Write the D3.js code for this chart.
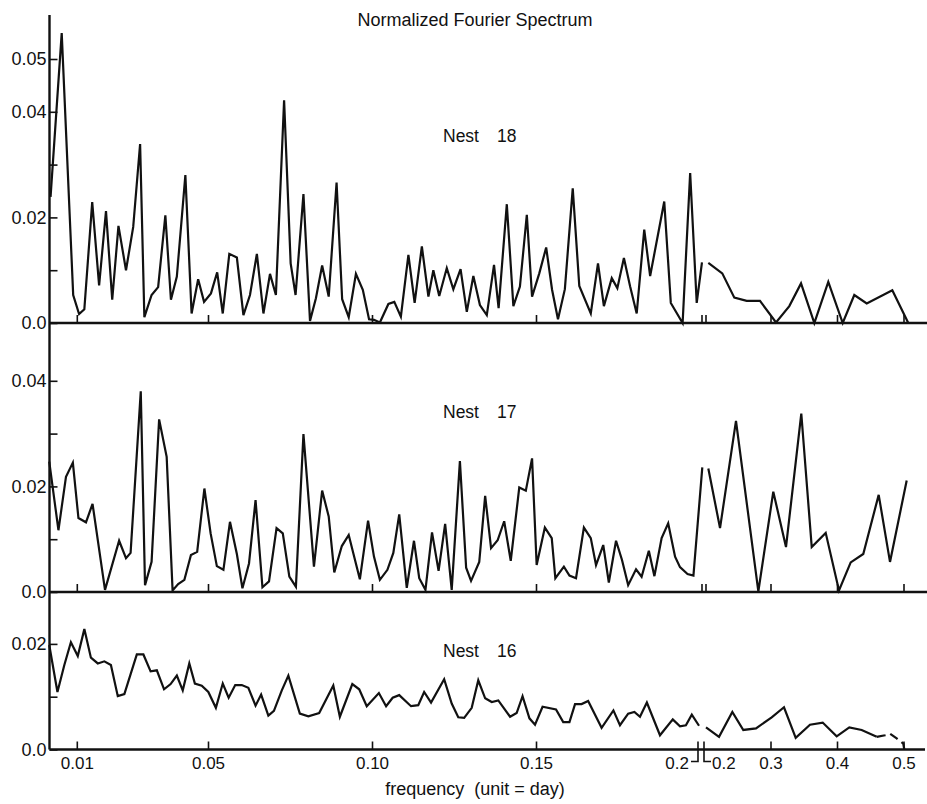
<!DOCTYPE html>
<html>
<head>
<meta charset="utf-8">
<script src="https://cdn.jsdelivr.net/npm/d3@7"></script>
<style>
  body { margin: 0; background: #fff; }
  svg text { font-family: "Liberation Sans", Arial, sans-serif; fill: #111; }
</style>
</head>
<body>
<div id="container"></div>
<script>
/* DATA */
// Nest 18, low frequency part (0 - 0.2)
const nest18FreqA = [0.0020, 0.0054, 0.0089, 0.0107, 0.0123, 0.0147, 0.0168, 0.0189, 0.0208, 0.0227,
  0.0250, 0.0272, 0.0293, 0.0306, 0.0328, 0.0348, 0.0370, 0.0387, 0.0405, 0.0431,
  0.0450, 0.0470, 0.0488, 0.0509, 0.0528, 0.0545, 0.0565, 0.0588, 0.0608, 0.0628,
  0.0649, 0.0669, 0.0689, 0.0707, 0.0732, 0.0752, 0.0767, 0.0791, 0.0811, 0.0829,
  0.0848, 0.0868, 0.0892, 0.0909, 0.0929, 0.0951, 0.0972, 0.0991, 0.1006, 0.1024,
  0.1050, 0.1068, 0.1088, 0.1111, 0.1130, 0.1152, 0.1172, 0.1187, 0.1205, 0.1228,
  0.1248, 0.1270, 0.1289, 0.1309, 0.1329, 0.1350, 0.1372, 0.1386, 0.1411, 0.1431,
  0.1451, 0.1472, 0.1488, 0.1510, 0.1531, 0.1549, 0.1567, 0.1588, 0.1612, 0.1632,
  0.1667, 0.1689, 0.1707, 0.1731, 0.1748, 0.1768, 0.1787, 0.1807, 0.1830, 0.1848,
  0.1891, 0.1911, 0.1947, 0.1970, 0.1990, 0.2006];
const nest18ValA = [0.0239, 0.0549, 0.0053, 0.0017, 0.0026, 0.0229, 0.0071, 0.0212, 0.0044, 0.0184,
  0.0100, 0.0182, 0.0339, 0.0011, 0.0053, 0.0068, 0.0204, 0.0044, 0.0088, 0.0280,
  0.0018, 0.0083, 0.0040, 0.0056, 0.0096, 0.0018, 0.0131, 0.0124, 0.0015, 0.0053,
  0.0131, 0.0018, 0.0093, 0.0053, 0.0422, 0.0113, 0.0053, 0.0244, 0.0004, 0.0047,
  0.0109, 0.0050, 0.0266, 0.0045, 0.0011, 0.0093, 0.0063, 0.0007, 0.0006, 0.0001,
  0.0036, 0.0040, 0.0012, 0.0129, 0.0038, 0.0145, 0.0050, 0.0100, 0.0051, 0.0104,
  0.0064, 0.0102, 0.0021, 0.0089, 0.0034, 0.0015, 0.0110, 0.0028, 0.0225, 0.0032,
  0.0069, 0.0205, 0.0050, 0.0094, 0.0143, 0.0063, 0.0007, 0.0064, 0.0255, 0.0070,
  0.0018, 0.0113, 0.0032, 0.0085, 0.0066, 0.0123, 0.0069, 0.0018, 0.0177, 0.0089,
  0.0230, 0.0038, 0.0000, 0.0284, 0.0038, 0.0115];
// Nest 18, high frequency part (0.2 - 0.5)
const nest18FreqB = [0.2065, 0.2275, 0.2456, 0.2642, 0.2842, 0.3083, 0.3283, 0.3459, 0.3659, 0.3869, 0.4086, 0.4260, 0.4447, 0.4832, 0.5072];
const nest18ValB = [0.0114, 0.0094, 0.0048, 0.0042, 0.0042, 0.0001, 0.0032, 0.0075, 0.0000, 0.0078, 0.0000, 0.0053, 0.0037, 0.0062, 0.0000];

// Nest 17
const nest17FreqA = [0.0016, 0.0044, 0.0067, 0.0088, 0.0105, 0.0128, 0.0148, 0.0186, 0.0229, 0.0250,
  0.0264, 0.0295, 0.0308, 0.0328, 0.0351, 0.0374, 0.0392, 0.0409, 0.0428, 0.0448,
  0.0467, 0.0489, 0.0508, 0.0527, 0.0547, 0.0567, 0.0588, 0.0605, 0.0625, 0.0645,
  0.0666, 0.0686, 0.0709, 0.0728, 0.0748, 0.0768, 0.0791, 0.0823, 0.0848, 0.0868,
  0.0885, 0.0908, 0.0929, 0.0963, 0.0988, 0.1006, 0.1024, 0.1047, 0.1065, 0.1083,
  0.1106, 0.1128, 0.1144, 0.1163, 0.1183, 0.1203, 0.1223, 0.1243, 0.1268, 0.1287,
  0.1302, 0.1327, 0.1345, 0.1363, 0.1383, 0.1403, 0.1423, 0.1449, 0.1469, 0.1488,
  0.1502, 0.1527, 0.1548, 0.1559, 0.1585, 0.1602, 0.1622, 0.1646, 0.1667, 0.1683,
  0.1705, 0.1722, 0.1744, 0.1762, 0.1781, 0.1805, 0.1822, 0.1844, 0.1861, 0.1883,
  0.1903, 0.1924, 0.1939, 0.1962, 0.1980, 0.2007];
const nest17ValA = [0.0247, 0.0117, 0.0218, 0.0245, 0.0140, 0.0132, 0.0167, 0.0004, 0.0097, 0.0064,
  0.0074, 0.0380, 0.0013, 0.0057, 0.0327, 0.0256, 0.0003, 0.0015, 0.0023, 0.0070,
  0.0076, 0.0196, 0.0111, 0.0049, 0.0042, 0.0133, 0.0072, 0.0007, 0.0054, 0.0174,
  0.0009, 0.0020, 0.0121, 0.0111, 0.0029, 0.0010, 0.0299, 0.0048, 0.0192, 0.0143,
  0.0037, 0.0087, 0.0108, 0.0024, 0.0135, 0.0067, 0.0023, 0.0042, 0.0074, 0.0147,
  0.0008, 0.0097, 0.0026, 0.0004, 0.0113, 0.0040, 0.0129, 0.0004, 0.0248, 0.0046,
  0.0021, 0.0057, 0.0182, 0.0083, 0.0098, 0.0134, 0.0059, 0.0198, 0.0192, 0.0253,
  0.0051, 0.0122, 0.0102, 0.0026, 0.0048, 0.0031, 0.0026, 0.0122, 0.0102, 0.0051,
  0.0089, 0.0018, 0.0097, 0.0061, 0.0013, 0.0043, 0.0029, 0.0078, 0.0030, 0.0102,
  0.0130, 0.0067, 0.0047, 0.0034, 0.0031, 0.0236];
const nest17FreqB = [0.2065, 0.2241, 0.2481, 0.2817, 0.3042, 0.3233, 0.3463, 0.3620, 0.3830, 0.4030, 0.4206, 0.4395, 0.4627, 0.4797, 0.5048];
const nest17ValB = [0.0234, 0.0121, 0.0324, 0.0001, 0.0190, 0.0085, 0.0338, 0.0085, 0.0112, 0.0003, 0.0056, 0.0072, 0.0184, 0.0057, 0.0211];

// Nest 16
const nest16FreqA = [0.0016, 0.0041, 0.0062, 0.0082, 0.0103, 0.0123, 0.0143, 0.0164, 0.0184, 0.0204,
  0.0225, 0.0245, 0.0283, 0.0303, 0.0325, 0.0344, 0.0366, 0.0386, 0.0405, 0.0423,
  0.0443, 0.0460, 0.0481, 0.0501, 0.0524, 0.0545, 0.0563, 0.0583, 0.0603, 0.0623,
  0.0645, 0.0662, 0.0684, 0.0701, 0.0725, 0.0745, 0.0780, 0.0806, 0.0839, 0.0882,
  0.0902, 0.0940, 0.0961, 0.0984, 0.1021, 0.1043, 0.1063, 0.1083, 0.1119, 0.1141,
  0.1159, 0.1180, 0.1220, 0.1243, 0.1263, 0.1281, 0.1304, 0.1324, 0.1345, 0.1365,
  0.1385, 0.1421, 0.1441, 0.1459, 0.1480, 0.1497, 0.1520, 0.1561, 0.1583, 0.1602,
  0.1619, 0.1639, 0.1659, 0.1700, 0.1736, 0.1756, 0.1781, 0.1800, 0.1817, 0.1838,
  0.1878, 0.1917, 0.1939, 0.1957, 0.1975, 0.1997];
const nest16ValA = [0.0198, 0.0109, 0.0160, 0.0203, 0.0177, 0.0228, 0.0174, 0.0163, 0.0167, 0.0160,
  0.0101, 0.0105, 0.0180, 0.0180, 0.0148, 0.0150, 0.0114, 0.0124, 0.0140, 0.0112,
  0.0163, 0.0125, 0.0121, 0.0109, 0.0079, 0.0125, 0.0098, 0.0122, 0.0122, 0.0117,
  0.0083, 0.0104, 0.0064, 0.0073, 0.0112, 0.0140, 0.0068, 0.0063, 0.0069, 0.0121,
  0.0062, 0.0124, 0.0114, 0.0082, 0.0107, 0.0082, 0.0098, 0.0103, 0.0082, 0.0084,
  0.0109, 0.0089, 0.0133, 0.0087, 0.0061, 0.0060, 0.0079, 0.0131, 0.0097, 0.0090,
  0.0093, 0.0062, 0.0069, 0.0101, 0.0059, 0.0047, 0.0081, 0.0076, 0.0052, 0.0052,
  0.0086, 0.0086, 0.0092, 0.0041, 0.0074, 0.0046, 0.0068, 0.0071, 0.0062, 0.0089,
  0.0027, 0.0057, 0.0044, 0.0046, 0.0066, 0.0045];
const nest16FreqB = [0.2030, 0.2226, 0.2426, 0.2591, 0.2782, 0.3018, 0.3203, 0.3379, 0.3594, 0.3785, 0.3995, 0.4185, 0.4371, 0.4597];
const nest16ValB = [0.0042, 0.0024, 0.0071, 0.0037, 0.0040, 0.0061, 0.0080, 0.0022, 0.0047, 0.0051, 0.0025, 0.0042, 0.0037, 0.0024];
// the broken (dashed) tail at the end of Nest 16
const nest16TailFreq = [0.4597, 0.4722, 0.4797, 0.4898, 0.4997, 0.5012];
const nest16TailVal = [0.0024, 0.0027, 0.0030, 0.0021, 0.0011, 0.0000];

// tick labels
const xTicksLow = [0.01, 0.05, 0.10, 0.15];
const xTicksHigh = [0.3, 0.4, 0.5];
const nestNames = ["18", "17", "16"];

/* LAYOUT */
const width = 927, height = 804;
const axisX = 49.5;
const unit = 5280; // px per 1.0 of spectrum

const xLow = d3.scaleLinear().domain([0, 0.2]).range([44, 700]);
const xHigh = d3.scaleLinear().domain([0.2, 0.5]).range([704, 903.5]);

const panels = [
  { name: nestNames[0], base: 323, max: 0.05, ticks: [0, 0.01, 0.02, 0.03, 0.04, 0.05], labeled: [0, 0.02, 0.04, 0.05],
    a: d3.zip(nest18FreqA, nest18ValA), b: d3.zip(nest18FreqB, nest18ValB), labelY: 142 },
  { name: nestNames[1], base: 592, max: 0.04, ticks: [0, 0.01, 0.02, 0.03, 0.04], labeled: [0, 0.02, 0.04],
    a: d3.zip(nest17FreqA, nest17ValA), b: d3.zip(nest17FreqB, nest17ValB), labelY: 418 },
  { name: nestNames[2], base: 749.5, max: 0.02, ticks: [0, 0.01, 0.02], labeled: [0, 0.02],
    a: d3.zip(nest16FreqA, nest16ValA), b: d3.zip(nest16FreqB, nest16ValB), tail: d3.zip(nest16TailFreq, nest16TailVal), labelY: 657 }
];

const svg = d3.select("#container")
  .append("svg")
  .attr("width", width)
  .attr("height", height)
  .style("background", "#fff");

const fmtY = d => d === 0 ? "0.0" : d3.format(".2f")(d);

panels.forEach((p, i) => {
  const y = d3.scaleLinear().domain([0, p.max]).range([p.base, p.base - p.max * unit]);
  const last = i === panels.length - 1;

  // y ticks point inward, labels left of the axis
  const yAxis = d3.axisLeft(y)
    .tickValues(p.ticks)
    .tickSize(-8)
    .tickPadding(3)
    .tickFormat(d => p.labeled.includes(d) ? fmtY(d) : "");
  const gy = svg.append("g").attr("transform", `translate(${axisX},0)`).call(yAxis);
  gy.select(".domain").remove();
  gy.selectAll("line").attr("stroke", "#111").attr("stroke-width", 1.6);
  gy.selectAll("text").style("font-size", "18px").attr("fill", "#111");

  // baseline
  svg.append("line")
    .attr("x1", axisX).attr("x2", last ? 925 : width)
    .attr("y1", p.base).attr("y2", p.base)
    .attr("stroke", "#111").attr("stroke-width", 2.4);

  // x ticks, both halves of the broken axis
  const gxa = svg.append("g").attr("transform", `translate(0,${p.base})`)
    .call(d3.axisBottom(xLow).tickValues(xTicksLow).tickSize(-8).tickPadding(7)
      .tickFormat(d => last ? d3.format(".2f")(d) : ""));
  const gxb = svg.append("g").attr("transform", `translate(0,${p.base})`)
    .call(d3.axisBottom(xHigh).tickValues(xTicksHigh).tickSize(-8).tickPadding(7)
      .tickFormat(d => last ? d3.format(".1f")(d) : ""));
  [gxa, gxb].forEach(g => {
    g.select(".domain").remove();
    g.selectAll("line").attr("stroke", "#111").attr("stroke-width", 1.6);
    g.selectAll("text").style("font-size", "17px").attr("fill", "#111");
  });

  // break marks at 0.2
  if (last) {
    svg.append("path")
      .attr("d", `M${xLow(0.2) - 9},${p.base + 12}H${xLow(0.2) - 2}V${p.base - 8}`)
      .attr("fill", "none").attr("stroke", "#111").attr("stroke-width", 1.6);
    svg.append("path")
      .attr("d", `M${xHigh(0.2)},${p.base - 8}V${p.base + 12}H${xHigh(0.2) + 7}`)
      .attr("fill", "none").attr("stroke", "#111").attr("stroke-width", 1.6);
    svg.append("text").attr("x", xLow(0.2) - 11).attr("y", p.base + 19)
      .attr("text-anchor", "end").style("font-size", "17px").text("0.2");
    svg.append("text").attr("x", xHigh(0.2) + 8).attr("y", p.base + 19)
      .attr("text-anchor", "start").style("font-size", "17px").text("0.2");
  } else {
    [xLow(0.2) + 2, xHigh(0.2) + 2].forEach(x => {
      svg.append("line").attr("x1", x).attr("x2", x)
        .attr("y1", p.base).attr("y2", p.base - 8)
        .attr("stroke", "#111").attr("stroke-width", 1.6);
    });
  }

  // spectrum lines
  const lineLow = d3.line().x(d => xLow(d[0])).y(d => y(d[1]));
  const lineHigh = d3.line().x(d => xHigh(d[0])).y(d => y(d[1]));
  svg.append("path").datum(p.a).attr("d", lineLow)
    .attr("fill", "none").attr("stroke", "#111").attr("stroke-width", 2.2).attr("stroke-linejoin", "miter");
  svg.append("path").datum(p.b).attr("d", lineHigh)
    .attr("fill", "none").attr("stroke", "#111").attr("stroke-width", 2.2).attr("stroke-linejoin", "miter");
  if (p.tail) {
    svg.append("path").datum(p.tail).attr("d", lineHigh)
      .attr("fill", "none").attr("stroke", "#111").attr("stroke-width", 2.2)
      .attr("stroke-dasharray", "9,5");
  }

  // panel label
  const lab = svg.append("text").attr("y", p.labelY).style("font-size", "17.5px");
  lab.append("tspan").attr("x", 443).text("Nest");
  lab.append("tspan").attr("x", 497).text(p.name);
});

// full height y axis
svg.append("line")
  .attr("x1", axisX).attr("x2", axisX)
  .attr("y1", 15).attr("y2", panels[2].base)
  .attr("stroke", "#111").attr("stroke-width", 2.4);

// titles
svg.append("text").attr("x", 475).attr("y", 26).attr("text-anchor", "middle")
  .style("font-size", "18px").text("Normalized Fourier Spectrum");
svg.append("text").attr("x", 475).attr("y", 795).attr("text-anchor", "middle")
  .style("font-size", "18px").style("white-space", "pre")
  .text("frequency  (unit = day)");
</script>
</body>
</html>
